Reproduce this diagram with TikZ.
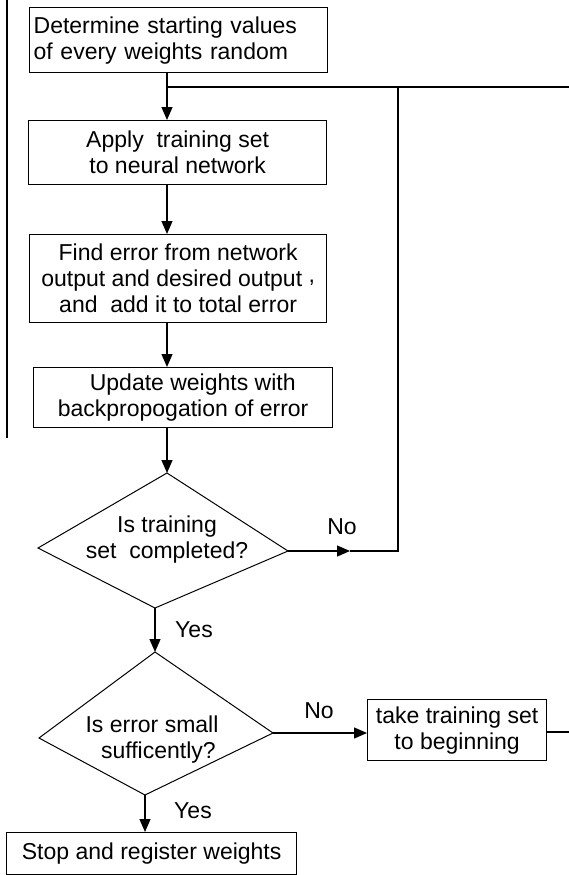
\documentclass[tikz,border=0pt]{standalone}
\usepackage{fontspec}
\setmainfont{Liberation Sans}
\usetikzlibrary{arrows.meta}
\begin{document}
\begin{tikzpicture}[x=1pt,y=-1pt,
  every node/.style={font=\fontsize{23}{26}\selectfont},
  flowbox/.style={draw, line width=1.3pt, rectangle, inner xsep=2pt, inner ysep=0pt,
                  anchor=north west, align=center},
  arr/.style={-{Triangle[width=11pt,length=13pt]}, line width=1.3pt},
  ln/.style={line width=1.3pt},
  dia/.style={line width=1pt, line join=miter},
  lbl/.style={inner sep=0pt}
]
\useasboundingbox (0,0) rectangle (569,875);

% margin rule on the left
\coordinate (m1) at (7,0);
\coordinate (m2) at (7,438);
\draw[ln] (m1) -- (m2);

% process boxes
\node[flowbox, align=left, text width=290pt, inner xsep=4pt, minimum height=65pt]
  (b1) at (29,7) {Determine starting values\\of every weights random};
\node[flowbox, minimum width=298pt, minimum height=64pt]
  (b2) at (28,120) {Apply\ \ training set\\to neural network};
\node[flowbox, minimum width=297pt, minimum height=88pt]
  (b3) at (29,234) {Find error from network\\output and desired output \raisebox{4pt}{,}\\and\ \ add it to total error};
\node[flowbox, minimum width=299pt, minimum height=60pt]
  (b4) at (33,367) {\ \ \ Update weights with\\backpropogation of error};
\node[flowbox, minimum width=179pt, minimum height=61pt]
  (tk) at (367,699) {take training set\\to beginning};
\node[flowbox, minimum width=290pt, minimum height=42pt]
  (st) at (6,832) {Stop and register weights};

% decision 1
\coordinate (d1t) at (167,473);
\coordinate (d1l) at (38,548);
\coordinate (d1r) at (288,551);
\coordinate (d1b) at (155,608);
\draw[dia] (d1t) -- (d1r) -- (d1b) -- (d1l) -- cycle;
\node[lbl, align=center] (q1) at (167,540) {Is training\\set\ \ completed?};

% decision 2
\coordinate (d2t) at (155,652);
\coordinate (d2l) at (39,738);
\coordinate (d2r) at (273,733);
\coordinate (d2b) at (145,795);
\draw[dia] (d2t) -- (d2r) -- (d2b) -- (d2l) -- cycle;
\node[lbl, align=center] (q2) at (152,740) {Is error small\\\ \ sufficently?};

% routing points of the loops
\coordinate (j)  at (167,87);
\coordinate (nA) at (350,551);
\coordinate (c1) at (398,551);
\coordinate (c2) at (398,87);
\coordinate (e1) at (569,732);
\coordinate (e2) at (569,87);

% main flow
\draw[arr] (b1.south -| j) -- (b2.north -| j);
\draw[arr] (b2.south -| j) -- (b3.north -| j);
\draw[arr] (b3.south -| j) -- (b4.north -| j);
\draw[arr] (b4.south -| d1t) -- (d1t);
\draw[arr] (d1b) -- (d2t);
\draw[arr] (d2r) -- (tk.west |- d2r);
\draw[arr] (d2b) -- (d2b |- st.north);

% loop back to the training step
\draw[arr] (d1r) -- (nA);
\draw[ln] (nA) -- (c1) -- (c2);
\draw[ln] (e2) -- (j);
\draw[ln] (tk.east |- e1) -- (e1);

% branch labels
\node[lbl] (no1)  at (342,527) {No};
\node[lbl] (yes1) at (194,630) {Yes};
\node[lbl] (no2)  at (319,711) {No};
\node[lbl] (yes2) at (193,811) {Yes};
\end{tikzpicture}
\end{document}
